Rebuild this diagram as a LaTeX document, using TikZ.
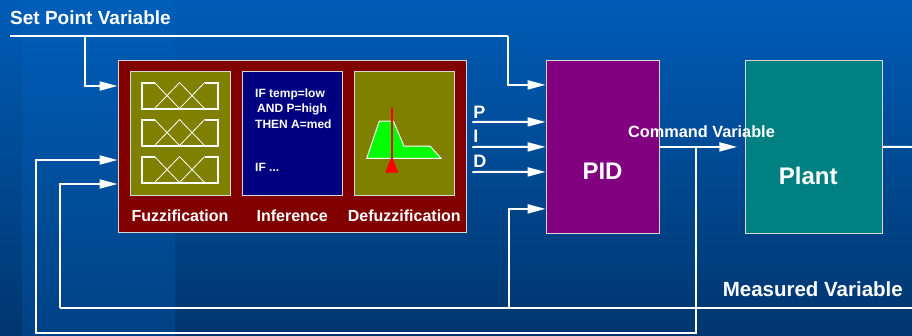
\documentclass[tikz,border=0pt]{standalone}
\usepackage{fontspec}
\setmainfont{Liberation Sans}
\usepackage{tikz}
\usetikzlibrary{positioning,arrows.meta,calc}
\definecolor{bgTop}{RGB}{0,92,182}
\definecolor{bgBot}{RGB}{0,54,110}
\definecolor{bandTop}{RGB}{0,94,185}
\definecolor{bandBot}{RGB}{0,66,132}
\definecolor{mMaroon}{RGB}{128,0,0}
\definecolor{mOlive}{RGB}{128,128,0}
\definecolor{mNavy}{RGB}{0,0,128}
\definecolor{mPurple}{RGB}{128,0,128}
\definecolor{mTeal}{RGB}{0,128,128}
\definecolor{mEdge}{RGB}{215,215,215}

\begin{document}
\begin{tikzpicture}[x=1pt, y=-1pt, font=\bfseries,
  wire/.style={white, line width=2pt},
  arr/.style={wire, -{Triangle[length=18pt,width=9pt]}},
  blk/.style={draw=mEdge, line width=0.9pt, inner sep=0pt},
  sub/.style={blk, minimum width=100pt, minimum height=124pt},
  title/.style={white, inner sep=0pt, font=\fontsize{19}{22}\selectfont\bfseries},
  lbl/.style={white, inner sep=0pt, font=\fontsize{16}{19}\selectfont\bfseries},
  big/.style={white, inner sep=0pt, font=\fontsize{24}{28}\selectfont\bfseries},
  rule/.style={white, inner sep=0pt, align=left, font=\fontsize{12}{15.4}\selectfont\bfseries},
  mf/.style={white, line width=0.8pt}]
\useasboundingbox (0,0) rectangle (912,335);
% backdrop
\shade[top color=bgTop, bottom color=bgBot] (0,0) rectangle (912,335);
\shade[top color=bandTop, bottom color=bandBot] (22,0) rectangle (175,335);
\node[title, anchor=base west] (sptxt) at (10,24.5) {Set Point Variable};
% fuzzy controller
\node[blk, fill=mMaroon, minimum width=348pt, minimum height=172pt] (flc) at (292,146) {};
\node[sub, fill=mOlive] (fuzz) at (180,133.7) {};
\node[sub, fill=mNavy] (infer) at (292.2,133.7) {};
\node[sub, fill=mOlive] (defuzz) at (404.3,133.7) {};
\node[lbl, anchor=base] (fuzzlbl) at ($(fuzz.south)+(0,25)$) {Fuzzification};
\node[lbl, anchor=base] (inferlbl) at ($(infer.south)+(0,25)$) {Inference};
\node[lbl, anchor=base] (defuzzlbl) at ($(defuzz.south)+(0,25)$) {Defuzzification};
% membership functions
\foreach \k in {0,1,2}{
  \begin{scope}[shift={(fuzz.north west)}, yshift=-37*\k pt]
    \draw[white, line width=2pt] (25,11.3) -- (12,11.3) -- (12,37.3) -- (88,37.3) -- (88,11.3) -- (75,11.3);
    \draw[mf] (25,11.3) -- (50,37.3) (25,37.3) -- (50,11.3) -- (75,37.3) (50,37.3) -- (75,11.3);
  \end{scope}
}
% rule base
\node[rule, anchor=north west] (rules) at (255,88.6) {IF temp=low\\\hspace{2pt}AND P=high\\THEN A=med\\[27.8pt]IF ...};
% output set and centroid
\draw[white, line width=1pt, fill=green] (366.7,158.3) -- (379.3,121) -- (393.3,121) -- (404,146) -- (430,146) -- (441,158.3) -- cycle;
\draw[red, line width=2pt] (391.7,108) -- (391.7,166);
\fill[red] (385.3,172.7) -- (398.3,172.7) -- (391.7,156) -- cycle;
% PID and plant
\node[blk, fill=mPurple, minimum width=113pt, minimum height=172.3pt] (pid) at (602.5,146.9) {};
\node[big, anchor=base] (pidtxt) at ($(pid.center)+(0,33)$) {PID};
\node[blk, fill=mTeal, minimum width=137pt, minimum height=172.3pt] (plant) at (814.2,146.9) {};
\node[big, anchor=base] (planttxt) at ($(plant.center)+(-6,38)$) {Plant};
% set point
\coordinate (sp) at (10,36);
\coordinate (spa) at (85,36);
\coordinate (spb) at (508,36);
\draw[wire] (sp) -- (spb);
\draw[arr] (spa) |- ($(flc.west)+(0,-60)$);
\draw[arr] (spb) |- ($(pid.west)+(0,-62)$);
% gains
\draw[arr] ($(flc.east)+(6,-24)$) -- ($(pid.west)+(0,-25)$) node[lbl, at start, anchor=base west, yshift=4pt, font=\fontsize{18}{21}\selectfont\bfseries] (ptxt) {P};
\draw[arr] ($(flc.east)+(6,1)$) -- (pid.west) node[lbl, at start, anchor=base west, yshift=4.5pt, font=\fontsize{18}{21}\selectfont\bfseries] (itxt) {I};
\draw[arr] ($(flc.east)+(6,26)$) -- ($(pid.west)+(0,25)$) node[lbl, at start, anchor=base west, yshift=5pt, font=\fontsize{18}{21}\selectfont\bfseries] (dtxt) {D};
% command variable
\coordinate (cmd) at ($(pid.east)+(37,0)$);
\draw[arr] (pid.east) -- ($(plant.west)+(-8,0)$);
\node[lbl, anchor=base, font=\fontsize{16.3}{19}\selectfont\bfseries] (cmdtxt) at ($(pid.east)+(42,-9.7)$) {Command Variable};
\coordinate (fb1) at (36,333);
\draw[arr] (cmd) |- (fb1) |- ($(flc.west)+(0,14)$);
% measured variable
\coordinate (out) at (912,147);
\draw[wire] (plant.east) -- (out);
\coordinate (meas) at (912,308);
\coordinate (fb2) at (60,308);
\coordinate (fb3) at (509,308);
\draw[wire] (meas) -- (fb2);
\draw[arr] (fb2) |- ($(flc.west)+(0,38)$);
\draw[arr] (fb3) |- ($(pid.west)+(0,62)$);
\node[title, anchor=base east, font=\fontsize{20.5}{24}\selectfont\bfseries] (meastxt) at (903,296) {Measured Variable};
\end{tikzpicture}
\end{document}
